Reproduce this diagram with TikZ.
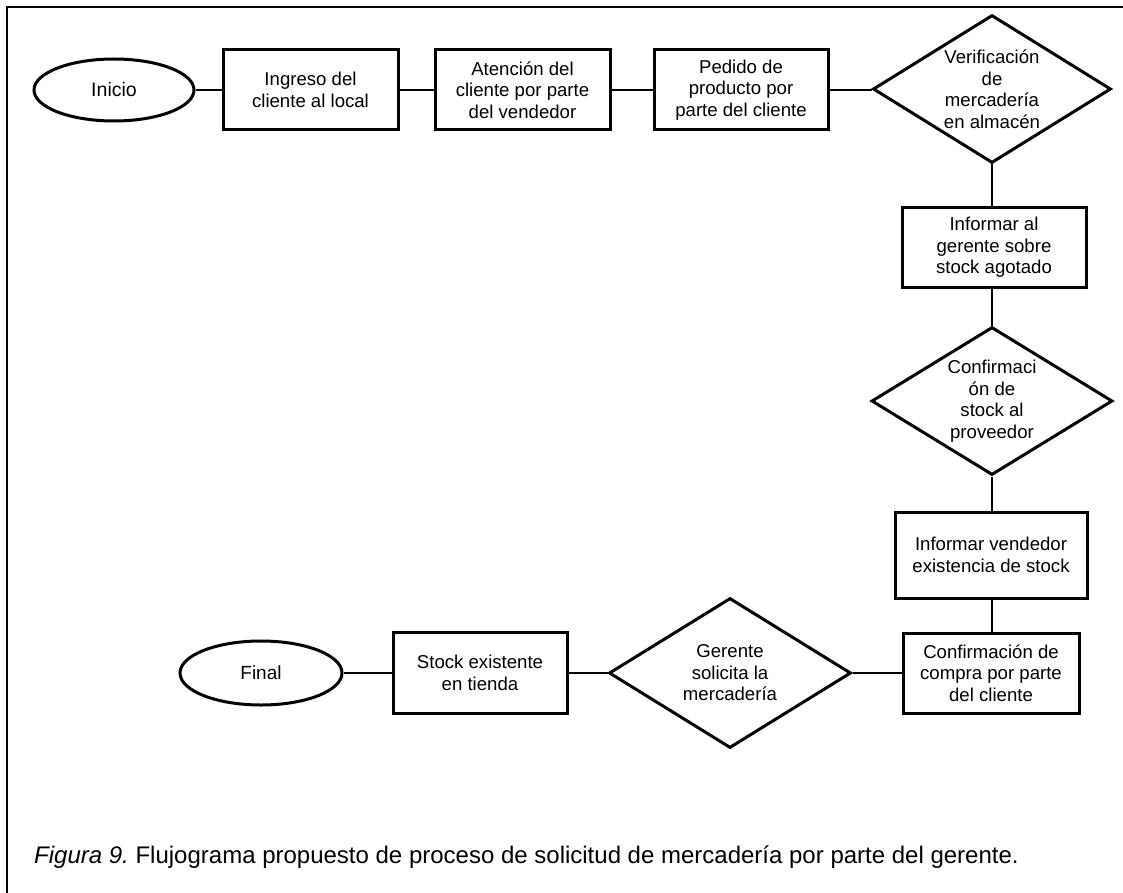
\documentclass[tikz,border=0pt]{standalone}
\usepackage{fontspec}
\setmainfont{Liberation Sans}
\usetikzlibrary{shapes.geometric}
\frenchspacing

\begin{document}
\begin{tikzpicture}[x=1pt, y=-1pt,
  every node/.style={font=\fontsize{18.6}{21.5}\selectfont, align=center, inner sep=0pt},
  box/.style={draw, rectangle, line width=3pt},
  terminal/.style={draw, ellipse, line width=3pt},
  decision/.style={draw, diamond, aspect=1.6, line width=3pt},
  link/.style={line width=1.8pt},
  frameline/.style={line width=2.8pt}
]
\useasboundingbox (0,0) rectangle (1123,893);

% open frame: left and top sides only
\draw[frameline] (7,893) -- (7,7) -- (1123,7);

% top row
\node[terminal, minimum width=160pt, minimum height=62pt, font=\fontsize{19.5}{21}\selectfont] (inicio) at (114,90) {Inicio};
\node[box, minimum width=175pt, minimum height=80pt] (b1) at (310.5,90) {Ingreso del\\cliente al local};
\node[box, minimum width=175pt, minimum height=80pt] (b2) at (522.5,90) {Atención del\\cliente por parte\\del vendedor};
\node[box, minimum width=174pt, minimum height=80pt] (b3) at (741,90) {Pedido de\\producto por\\parte del cliente};
\node[decision, minimum width=238pt, minimum height=148pt] (d1) at (992,89) {Verificación\\de\\mercadería\\en almacén};

% right column
\node[box, minimum width=184pt, minimum height=79pt] (b4) at (994,247.5) {Informar al\\gerente sobre\\stock agotado};
\node[decision, minimum width=241pt, minimum height=148pt] (d2) at (992,401) {Confirmaci\\ón de\\stock al\\proveedor};
\node[box, minimum width=192pt, minimum height=86pt] (b5) at (991,555) {Informar vendedor\\existencia de stock};
\node[box, minimum width=176pt, minimum height=80pt] (b6) at (991,673) {Confirmación de\\compra por parte\\del cliente};

% bottom row
\node[decision, minimum width=242pt, minimum height=150pt] (d3) at (730,673) {Gerente\\solicita la\\mercadería};
\node[box, minimum width=174pt, minimum height=81pt] (b7) at (480,673) {Stock existente\\en tienda};
\node[terminal, minimum width=162pt, minimum height=64pt, font=\fontsize{19}{21}\selectfont] (final) at (261,673) {Final};

% connectors
\draw[link] (inicio.east) -- (b1.west);
\draw[link] (b1.east) -- (b2.west);
\draw[link] (b2.east) -- (b3.west);
\draw[link] (b3.east) -- (d1.west |- b3.east);
\draw[link] (d1.south) -- (d1.south |- b4.north);
\draw[link] (b4.south -| d2.north) -- (d2.north);
\draw[link] (d2.south) -- (d2.south |- b5.north);
\draw[link] (b5.south -| d2.south) -- (d2.south |- b6.north);
\draw[link] (b6.west) -- (d3.east);
\draw[link] (d3.west) -- (b7.east);
\draw[link] (b7.west) -- (final.east);

% caption
\node[anchor=base west, font=\fontsize{24}{28}\selectfont] (caption) at (34,863)
  {\textit{Figura 9.} Flujograma propuesto de proceso de solicitud de mercadería por parte del gerente.};
\end{tikzpicture}
\end{document}
